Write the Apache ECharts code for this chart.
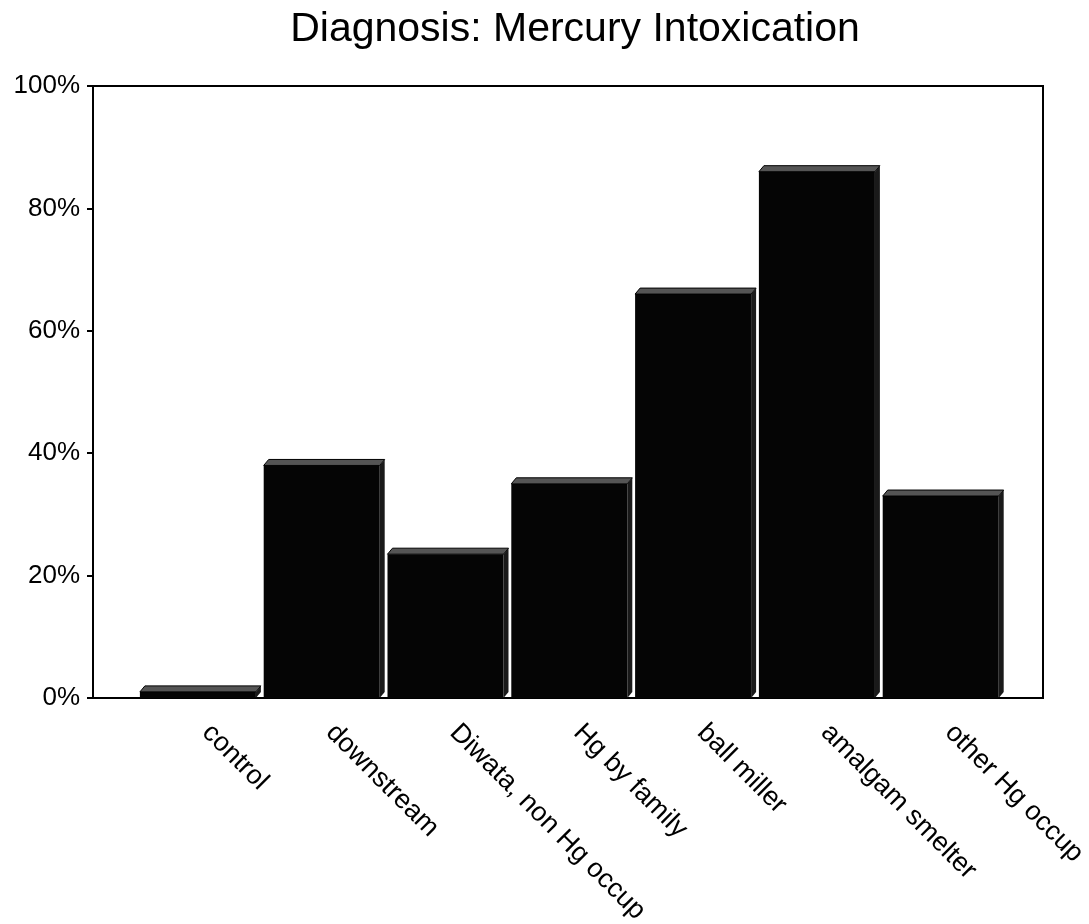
<!DOCTYPE html>
<html>
<head>
<meta charset="utf-8">
<script src="https://cdn.jsdelivr.net/npm/echarts@6/dist/echarts.min.js"></script>
<style>
html,body{margin:0;padding:0;background:#fff;}
#chart{width:1089px;height:924px;}
</style>
</head>
<body>
<div id="chart"></div>
<script>
const titleText = 'Diagnosis: Mercury Intoxication';
const categories = ['control', 'downstream', 'Diwata, non Hg occup', 'Hg by family', 'ball miller', 'amalgam smelter', 'other Hg occup'];
const values = [1, 38, 23.5, 35, 66, 86, 33];
const yTicks = [0, 20, 40, 60, 80, 100];

const chart = echarts.init(document.getElementById('chart'), null, {renderer: 'canvas'});
const FONT = '"Liberation Sans", Arial, Helvetica, sans-serif';

function renderBar(params, api) {
  const idx = api.value(0);
  const val = api.value(1);
  const top = api.coord([idx, val]);
  const base = api.coord([idx, 0]);
  const band = api.size([1, 0])[0];
  const w = band * 0.937;
  const dx = 5, dy = 6;
  const x0 = top[0] - w / 2;
  const y0 = top[1];
  const yb = base[1];
  return {
    type: 'group',
    children: [
      {type: 'rect', shape: {x: x0, y: y0, width: w, height: yb - y0}, style: {fill: '#050505'}},
      {type: 'polygon', shape: {points: [[x0, y0], [x0 + dx, y0 - dy], [x0 + w + dx, y0 - dy], [x0 + w, y0]]}, style: {fill: '#555555', stroke: '#000', lineWidth: 1}},
      {type: 'polygon', shape: {points: [[x0 + w, y0], [x0 + w + dx, y0 - dy], [x0 + w + dx, yb - dy], [x0 + w, yb]]}, style: {fill: '#1a1a1a'}}
    ]
  };
}

chart.setOption({
  backgroundColor: '#ffffff',
  animation: false,
  title: {
    text: titleText,
    left: 570,
    top: 4,
    textAlign: 'center',
    textStyle: {fontFamily: FONT, fontSize: 41, fontWeight: 'normal', color: '#000'}
  },
  grid: [
    {left: 93, right: 46, top: 86, bottom: 226, show: true, borderColor: '#000', borderWidth: 2,
      backgroundColor: 'transparent', containLabel: false, outerBoundsMode: 'none'},
    {left: 136, right: 86.4, top: 86, bottom: 226, containLabel: false, outerBoundsMode: 'none'}
  ],
  xAxis: [
    {type: 'value', gridIndex: 0, min: 0, max: 1, show: false},
    {
      type: 'category', gridIndex: 1, data: categories,
      axisLine: {show: false}, axisTick: {show: false},
      axisLabel: {rotate: -45, margin: 22, interval: 0, padding: [0, 0, 0, 12],
        fontFamily: FONT, fontSize: 27, color: '#000'}
    }
  ],
  yAxis: [
    {
      type: 'value', gridIndex: 0, min: 0, max: 100, interval: 20,
      axisLine: {show: false},
      axisTick: {show: true, length: 6, inside: false, lineStyle: {color: '#000', width: 2}},
      splitLine: {show: false},
      axisLabel: {margin: 13, fontFamily: FONT, fontSize: 26, color: '#000',
        customValues: yTicks, formatter: v => v + '%'}
    },
    {type: 'value', gridIndex: 1, min: 0, max: 100, show: false}
  ],
  series: [{
    type: 'custom',
    xAxisIndex: 1, yAxisIndex: 1,
    renderItem: renderBar,
    data: values.map((v, i) => [i, v]),
    clip: false
  }]
});
</script>
</body>
</html>
